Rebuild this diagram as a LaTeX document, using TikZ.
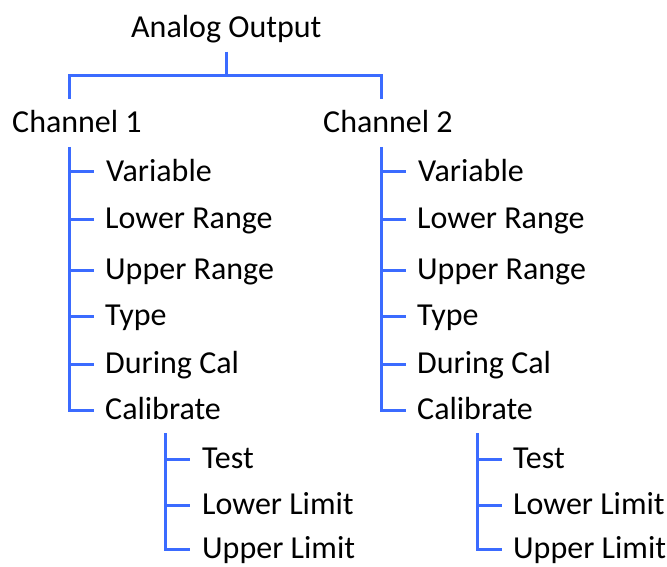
\documentclass[tikz,border=0pt]{standalone}
\usepackage{fontspec}
\setmainfont{Carlito}
\definecolor{treeblue}{RGB}{59,107,255}
\tikzset{
	lbl/.style={inner sep=0pt, anchor=west, text height=19pt, text depth=0pt, font=\fontsize{32}{38}\selectfont},
	branch/.style={draw=treeblue, line width=3pt},
}

\begin{document}
\begin{tikzpicture}[x=1pt,y=-1pt]
			\useasboundingbox (0,0) rectangle (667,567);

			\node[lbl] (ao) at (131,28) {Analog Output};
			\node[lbl] (ch1) at (12,123) {Channel 1};
			\node[lbl] (ch2) at (323,123) {Channel 2};

			\coordinate (j) at (226,76);
			\coordinate (c1) at (69,99);
			\coordinate (c2) at (381,99);
			\coordinate (v1) at (69,147);
			\coordinate (v2) at (381,147);
			\coordinate (s1) at (165,433);
			\coordinate (s2) at (477,433);

			% channel 1
			\node[lbl] (var1) at (106,172) {Variable};
			\node[lbl] (lr1) at (105,219) {Lower Range};
			\node[lbl] (ur1) at (105,270) {Upper Range};
			\node[lbl] (typ1) at (105,316) {Type};
			\node[lbl] (dc1) at (105,364) {During Cal};
			\node[lbl] (cal1) at (105,410) {Calibrate};
			\node[lbl] (tst1) at (202,459) {Test};
			\node[lbl] (ll1) at (202,505) {Lower Limit};
			\node[lbl] (ul1) at (202,549) {Upper Limit};

			% channel 2
			\node[lbl] (var2) at (418,172) {Variable};
			\node[lbl] (lr2) at (417,219) {Lower Range};
			\node[lbl] (ur2) at (417,270) {Upper Range};
			\node[lbl] (typ2) at (417,316) {Type};
			\node[lbl] (dc2) at (417,364) {During Cal};
			\node[lbl] (cal2) at (417,410) {Calibrate};
			\node[lbl] (tst2) at (513,459) {Test};
			\node[lbl] (ll2) at (513,505) {Lower Limit};
			\node[lbl] (ul2) at (513,549) {Upper Limit};

			\draw[branch] (j |- ao.south) ++(0,-14pt) -- (j);
			\draw[branch] (c1) -- (c1 |- j) -- (c2 |- j) -- (c2);

			\draw[branch] (v1) |- ([xshift=-11pt]cal1.west);
			\draw[branch] (v1 |- var1.west) -- ([xshift=-12pt]var1.west);
			\draw[branch] (v1 |- lr1.west) -- ([xshift=-11pt]lr1.west);
			\draw[branch] (v1 |- ur1.west) -- ([xshift=-11pt]ur1.west);
			\draw[branch] (v1 |- typ1.west) -- ([xshift=-11pt]typ1.west);
			\draw[branch] (v1 |- dc1.west) -- ([xshift=-11pt]dc1.west);
			\draw[branch] (s1) |- ([xshift=-12pt]ul1.west);
			\draw[branch] (s1 |- tst1.west) -- ([xshift=-12pt]tst1.west);
			\draw[branch] (s1 |- ll1.west) -- ([xshift=-12pt]ll1.west);

			\draw[branch] (v2) |- ([xshift=-11pt]cal2.west);
			\draw[branch] (v2 |- var2.west) -- ([xshift=-12pt]var2.west);
			\draw[branch] (v2 |- lr2.west) -- ([xshift=-11pt]lr2.west);
			\draw[branch] (v2 |- ur2.west) -- ([xshift=-11pt]ur2.west);
			\draw[branch] (v2 |- typ2.west) -- ([xshift=-11pt]typ2.west);
			\draw[branch] (v2 |- dc2.west) -- ([xshift=-11pt]dc2.west);
			\draw[branch] (s2) |- ([xshift=-11pt]ul2.west);
			\draw[branch] (s2 |- tst2.west) -- ([xshift=-11pt]tst2.west);
			\draw[branch] (s2 |- ll2.west) -- ([xshift=-11pt]ll2.west);
\end{tikzpicture}
\end{document}
